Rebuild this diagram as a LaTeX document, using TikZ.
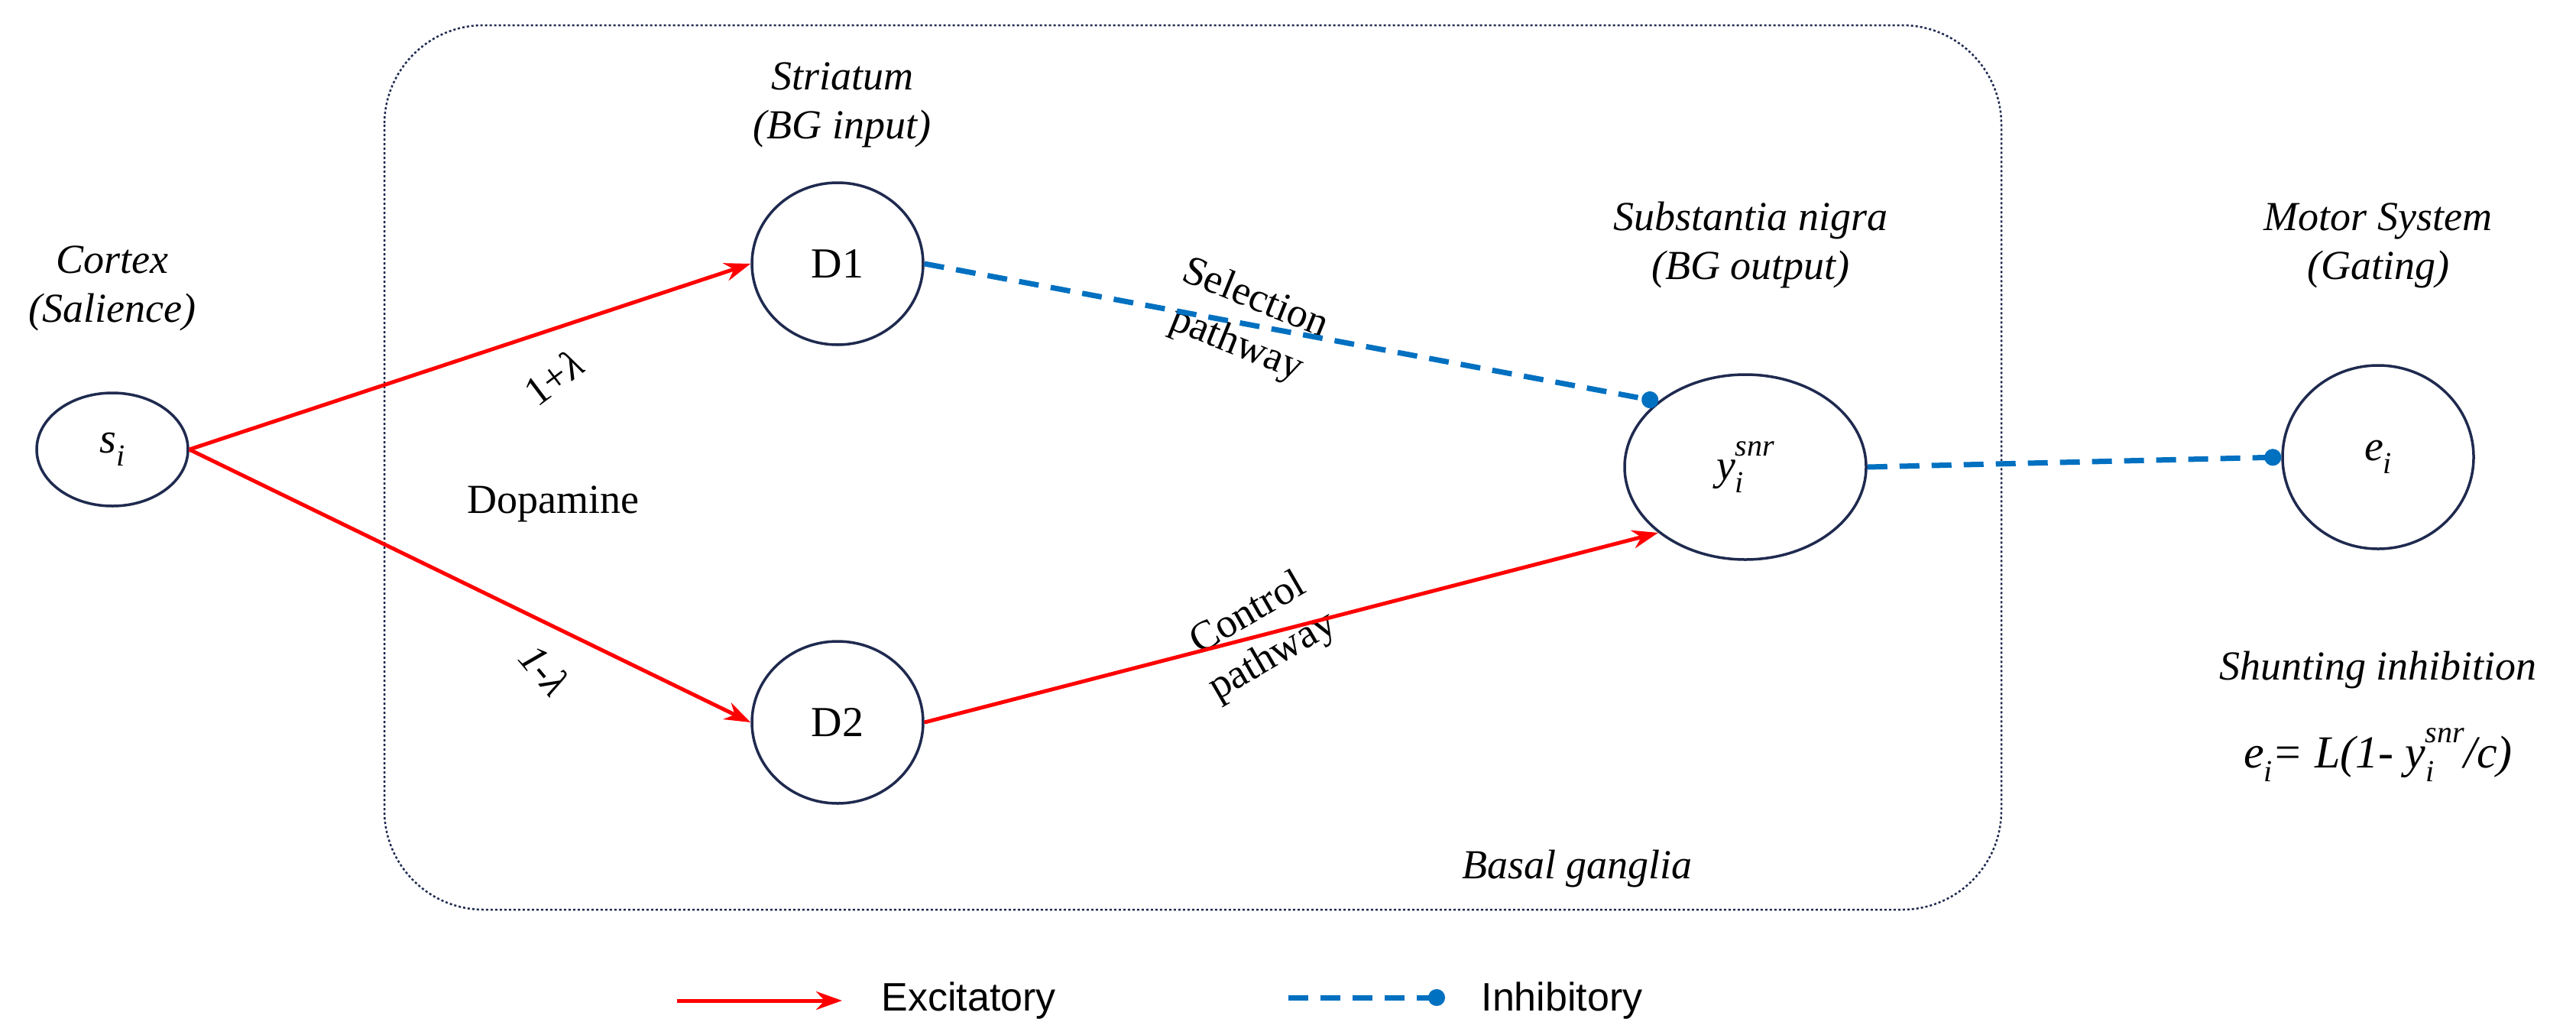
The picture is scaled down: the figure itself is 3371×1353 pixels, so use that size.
\documentclass[tikz,border=0pt]{standalone}
\usepackage{fontspec}
\setmainfont{Liberation Serif}
\newfontfamily\legfont{Liberation Sans}
\usetikzlibrary{shapes.geometric,arrows.meta}
\definecolor{navy}{HTML}{1F2A4F}
\definecolor{ibl}{HTML}{0070C0}
\newcommand{\sbs}[1]{\raisebox{-0.3em}{\fontsize{40}{40}\selectfont #1}}
\newcommand{\sps}[1]{\raisebox{0.55em}{\fontsize{40}{40}\selectfont #1}}
\begin{document}
\begin{tikzpicture}[x=1pt,y=-1pt,
  nd/.style={ellipse,draw=navy,line width=3.5pt,inner sep=0pt,font=\fontsize{56}{64}\selectfont},
  lab/.style={font=\fontsize{54}{64}\selectfont\itshape,align=center},
  txt/.style={font=\fontsize{54}{64}\selectfont},
  exc/.style={draw=red,line width=5pt,-{Stealth[length=34pt,width=24pt]}},
  inh/.style={draw=ibl,line width=7pt,dash pattern=on 26pt off 16pt,-{Circle[length=22pt,width=22pt]}},
  leg/.style={font=\fontsize{52}{60}\selectfont\legfont}]
\useasboundingbox (0,0) rectangle (3371,1353);
\draw[navy,line width=2.5pt,dash pattern=on 3pt off 3pt,rounded corners=130pt] (503,33) rectangle (2619,1190);
\node[nd,minimum width=198pt,minimum height=148pt] (s) at (147,588) {\itshape s\sbs{i}};
\node[nd,minimum width=224pt,minimum height=212pt] (d1) at (1096,345) {D1};
\node[nd,minimum width=224pt,minimum height=212pt] (d2) at (1096,945) {D2};
\node[nd,minimum width=316pt,minimum height=242pt] (y) at (2284,611) {\itshape y\sbs{i}\kern-0.2em\sps{snr}};
\node[nd,minimum width=250pt,minimum height=240pt] (e) at (3112,598) {\itshape e\sbs{i}};
\node[lab] (cx) at (147,377) {Cortex\\(Salience)};
\node[lab] (st) at (1102,137) {Striatum\\(BG input)};
\node[lab] (sn) at (2291,321) {Substantia nigra\\(BG output)};
\node[lab] (ms) at (3112,321) {Motor System\\(Gating)};
\node[txt,rotate=37] (l1) at (724,494) {1+\itshape λ};
\node[txt,rotate=-50] (l2) at (713,876) {\itshape 1-λ};
\node[txt] (dp) at (724,659) {Dopamine};
\node[txt,rotate=-22,align=center] (sp) at (1630,422) {Selection\\pathway};
\node[txt,rotate=30,align=center] (cp) at (1650,832) {Control\\pathway};
\node[lab] (bg) at (2064,1136) {Basal ganglia};
\node[lab] (sh) at (3112,876) {Shunting inhibition};
\node[lab,font=\fontsize{60}{64}\selectfont\itshape] (fm) at (3112,988) {e\sbs{i}= L(1- y\sbs{i}\kern-0.2em\sps{snr}/c)};
\draw[exc] (s.east) -- (d1.west);
\draw[exc] (s.east) -- (d2.west);
\draw[exc] (d2.east) -- (y.217);
\draw[inh] (d1.east) -- (y.143);
\draw[inh] (y.east) -- (e.west);
\coordinate (a1) at (886,1309); \coordinate (a2) at (1102,1309);
\coordinate (b1) at (1686,1305); \coordinate (b2) at (1891,1305);
\draw[exc] (a1) -- (a2);
\node[leg,anchor=west] (ex) at (1150,1309) {Excitatory};
\draw[inh] (b1) -- (b2);
\node[leg,anchor=west] (ih) at (1935,1309) {Inhibitory};
\end{tikzpicture}
\end{document}
